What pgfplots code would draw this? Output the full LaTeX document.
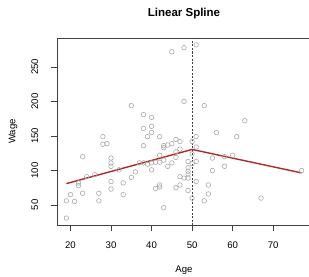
\documentclass[border=0pt]{standalone}
\usepackage{fontspec}
\setmainfont{Liberation Sans}
\usepackage{pgfplots}
\pgfplotsset{compat=1.18}
\definecolor{pts}{RGB}{169,169,169}
\definecolor{spl}{RGB}{176,40,40}
\begin{document}
\begin{tikzpicture}
\begin{axis}[
  name=ax,
  scale only axis,
  width=254bp, height=187bp,
  xmin=16.68, xmax=79.32, ymin=21, ymax=292,
  xtick={20,30,40,50,60,70},
  ytick={50,100,150,200,250},
  tick align=outside,
  xtick pos=bottom, ytick pos=left,
  major tick length=5.5bp,
  axis line style={black!75, line width=0.6bp},
  every tick/.style={black!75, line width=0.6bp},
  /pgf/number format/assume math mode=true,
  tick label style={font=\fontsize{9.6bp}{11bp}\selectfont, inner sep=0pt},
  xticklabel style={anchor=north, yshift=-10.7bp},
  yticklabel style={xshift=-13bp, rotate=90, anchor=south},
  label style={font=\fontsize{9.6bp}{11bp}\selectfont},
  xlabel={Age},
  ylabel={Wage},
  xlabel style={at={(axis description cs:0.5,0)}, anchor=center, yshift=-45.5bp},
  ylabel style={at={(axis description cs:0,0.5)}, anchor=center, yshift=44bp},
  title={Linear Spline},
  title style={at={(axis description cs:0.5,1)}, anchor=center, yshift=18bp, font=\fontsize{11.5bp}{13bp}\selectfont\bfseries},
  clip=false,
]
\coordinate (O) at (rel axis cs:0,0);
\addplot[only marks, mark=o, mark size=2.3bp, mark options={draw=pts, line width=0.6bp}] table {
x y
19 31
19 56
20 65
21 55
22 82
22 78
23 120
23 67
24 91
26 94
27 67
27 56
28 149
28 138
29 139
30 118
30 111
30 106
30 84
30 73
32 101
33 82
33 65
35 90
35 194
36 98
37 111
38 181
38 161
38 136
38 111
39 149
39 109
40 177
40 164
40 155
40 111
40 101
41 112
41 74
42 149
42 122
42 112
42 79
42 76
43 136
43 133
43 115
43 46
44 137
44 106
45 272
45 139
45 111
46 145
46 127
46 119
46 75
47 142
47 131
47 91
47 79
48 278
48 200
48 89
49 113
49 104
49 99
49 95
49 89
49 71
50 142
50 124
50 110
50 60
51 282
51 149
51 134
51 113
51 84
53 194
53 56
54 79
54 66
55 118
55 100
56 155
58 120
58 106
60 122
61 149
63 172
67 60
77 100
};
\addplot[spl, line width=1.4bp] coordinates {(19,81) (50,130.5) (77,96.5)};
\addplot[black!75, line width=0.6bp, dash pattern=on 2bp off 1.5bp] coordinates {(50,21) (50,292)};
\end{axis}
\pgfresetboundingbox
\path[use as bounding box] ([shift={(-57bp,-52bp)}]O) rectangle ([shift={(252bp,225bp)}]O);
\end{tikzpicture}
\end{document}
